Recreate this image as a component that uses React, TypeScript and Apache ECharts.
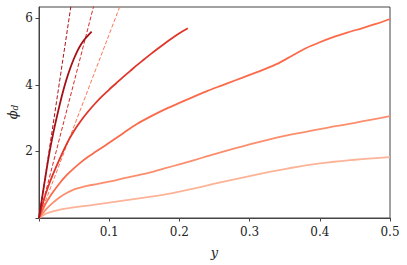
import React, { useEffect, useRef } from "react";
import * as echarts from "echarts";

const xTicks = [0, 0.1, 0.2, 0.3, 0.4, 0.5];
const xLabels = [0.1, 0.2, 0.3, 0.4, 0.5];
const yTicks = [0, 2, 4, 6];
const yLabels = [2, 4, 6];

const c1x = [0, 0.01, 0.02, 0.03, 0.04, 0.06, 0.08, 0.1, 0.12, 0.14, 0.16, 0.18, 0.2, 0.22, 0.24, 0.26, 0.28, 0.3, 0.32, 0.34, 0.36, 0.38, 0.4, 0.42, 0.44, 0.46, 0.48, 0.5];
const c1y = [0, 0.13, 0.2, 0.25, 0.29, 0.35, 0.4, 0.46, 0.52, 0.58, 0.64, 0.71, 0.79, 0.88, 0.98, 1.08, 1.17, 1.26, 1.35, 1.43, 1.51, 1.58, 1.64, 1.69, 1.73, 1.77, 1.8, 1.83];

const c2x = [0, 0.01, 0.02, 0.03, 0.04, 0.05, 0.06, 0.07, 0.08, 0.1, 0.12, 0.14, 0.16, 0.18, 0.2, 0.22, 0.24, 0.26, 0.28, 0.3, 0.32, 0.34, 0.36, 0.38, 0.4, 0.42, 0.44, 0.46, 0.48, 0.5];
const c2y = [0, 0.26, 0.46, 0.63, 0.76, 0.86, 0.92, 0.97, 1.01, 1.09, 1.19, 1.28, 1.38, 1.5, 1.61, 1.73, 1.86, 1.98, 2.1, 2.21, 2.32, 2.42, 2.51, 2.59, 2.67, 2.75, 2.82, 2.9, 2.98, 3.06];

const c3x = [0, 0.01, 0.02, 0.03, 0.04, 0.05, 0.06, 0.07, 0.08, 0.09, 0.1, 0.12, 0.14, 0.16, 0.18, 0.2, 0.22, 0.24, 0.26, 0.28, 0.3, 0.32, 0.34, 0.36, 0.38, 0.4, 0.42, 0.44, 0.46, 0.48, 0.5];
const c3y = [0, 0.45, 0.78, 1.06, 1.3, 1.5, 1.68, 1.84, 1.98, 2.12, 2.26, 2.55, 2.83, 3.06, 3.27, 3.46, 3.64, 3.82, 3.98, 4.14, 4.3, 4.46, 4.64, 4.87, 5.1, 5.28, 5.44, 5.58, 5.7, 5.83, 5.98];

const c4x = [0, 0.005, 0.01, 0.015, 0.02, 0.03, 0.04, 0.05, 0.06, 0.07, 0.08, 0.09, 0.1, 0.11, 0.12, 0.13, 0.14, 0.15, 0.16, 0.17, 0.18, 0.19, 0.2, 0.212];
const c4y = [0, 0.4, 0.75, 1.05, 1.32, 1.8, 2.25, 2.62, 2.93, 3.2, 3.44, 3.66, 3.86, 4.05, 4.24, 4.42, 4.6, 4.77, 4.94, 5.1, 5.26, 5.41, 5.55, 5.7];

const c5x = [0, 0.005, 0.01, 0.015, 0.02, 0.025, 0.03, 0.035, 0.04, 0.045, 0.05, 0.055, 0.06, 0.065, 0.07, 0.075];
const c5y = [0, 0.68, 1.35, 1.98, 2.52, 3.0, 3.45, 3.86, 4.22, 4.53, 4.8, 5.03, 5.22, 5.37, 5.49, 5.6];

// dashed reference lines through origin
const d1x = [0, 0.05];
const d1y = [0, 7.0];
const d2x = [0, 0.085];
const d2y = [0, 6.95];
const d3x = [0, 0.125];
const d3y = [0, 6.9];

const solidColors = ["#fcb398", "#fc8e6e", "#fb6a4a", "#e0352b", "#a50f15"];
const dashColors = ["#b11218", "#d92a26", "#fb7656"];

const zip = (xs: number[], ys: number[]) => xs.map((x, i) => [x, ys[i]]);

export default function App() {
  const ref = useRef<HTMLDivElement>(null);
  useEffect(() => {
    document.body.style.margin = "0";
    if (!ref.current) return;
    const chart = echarts.init(ref.current, null, { renderer: "svg" });
    const font = "DejaVu Serif";
    const solids = [
      zip(c1x, c1y),
      zip(c2x, c2y),
      zip(c3x, c3y),
      zip(c4x, c4y),
      zip(c5x, c5y),
    ];
    const dashes = [zip(d1x, d1y), zip(d2x, d2y), zip(d3x, d3y)];
    chart.setOption({
      animation: false,
      textStyle: { fontFamily: font },
      grid: {
        left: 39,
        right: 17,
        top: 7,
        bottom: 47,
        show: true,
        borderColor: "#444",
        borderWidth: 1,
        backgroundColor: "transparent",
      },
      xAxis: {
        type: "value",
        min: 0,
        max: 0.5,
        name: "y",
        nameLocation: "middle",
        nameGap: 28,
        nameTextStyle: { fontFamily: font, fontSize: 13, fontStyle: "italic", color: "#222" },
        axisLine: { show: true, lineStyle: { color: "#444", width: 1 } },
        axisTick: { show: true, length: 3.5, inside: false, customValues: xTicks, lineStyle: { color: "#444" } },
        axisLabel: {
          customValues: xLabels,
          fontFamily: font,
          fontSize: 12,
          color: "#222",
          margin: 8,
          formatter: (v: number) => v.toFixed(1),
        },
        splitLine: { show: false },
      },
      yAxis: {
        type: "value",
        min: 0,
        max: 6.34,
        axisLine: { show: true, lineStyle: { color: "#444", width: 1 } },
        axisTick: { show: true, length: 3.5, inside: false, customValues: yTicks, lineStyle: { color: "#444" } },
        axisLabel: {
          customValues: yLabels,
          fontFamily: font,
          fontSize: 12,
          color: "#222",
          margin: 6,
        },
        splitLine: { show: false },
      },
      graphic: [
        {
          type: "text",
          x: 12,
          y: 112,
          rotation: Math.PI / 2,
          style: {
            text: "{a|ϕ}{b|d}",
            align: "center",
            verticalAlign: "middle",
            rich: {
              a: { fontFamily: font, fontSize: 13, fontStyle: "italic", fill: "#222" },
              b: { fontFamily: font, fontSize: 9, fontStyle: "italic", fill: "#222", padding: [6, 0, 0, 0] },
            },
          },
        },
      ],
      series: [
        ...dashes.map((d, i) => ({
          type: "line",
          data: d,
          showSymbol: false,
          clip: true,
          lineStyle: { color: dashColors[i], width: 1, type: [4, 2] },
          z: 2,
        })),
        ...solids.map((d, i) => ({
          type: "line",
          data: d,
          showSymbol: false,
          clip: true,
          smooth: 0.25,
          lineStyle: { color: solidColors[i], width: 1.8, join: "round" },
          z: 3,
        })),
      ],
    });
    return () => chart.dispose();
  }, []);
  return <div ref={ref} style={{ width: 407, height: 265 }} />;
}
